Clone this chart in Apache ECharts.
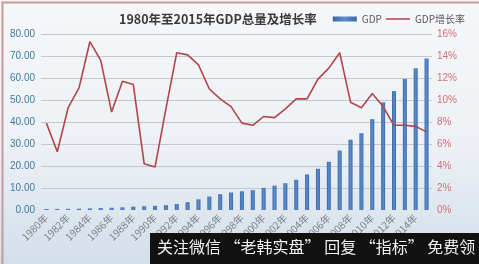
<!DOCTYPE html>
<html><head><meta charset="utf-8">
<script src="https://cdn.jsdelivr.net/npm/echarts@6/dist/echarts.min.js"></script>
<style>html,body{margin:0;padding:0;}#c{width:479px;height:264px;}</style>
</head><body><div id="c"></div>
<script>
const years = ['1980年','1981年','1982年','1983年','1984年','1985年','1986年','1987年','1988年','1989年','1990年','1991年','1992年','1993年','1994年','1995年','1996年','1997年','1998年','1999年','2000年','2001年','2002年','2003年','2004年','2005年','2006年','2007年','2008年','2009年','2010年','2011年','2012年','2013年','2014年','2015年'];
const gdp = [0.46,0.49,0.54,0.60,0.73,0.91,1.04,1.22,1.52,1.72,1.89,2.20,2.72,3.57,4.86,6.13,7.18,7.97,8.52,9.06,10.03,11.09,12.17,13.74,16.18,18.73,21.94,27.02,31.95,34.91,41.30,48.93,54.04,59.52,64.40,68.91];
const growth = [7.9,5.3,9.3,11.1,15.3,13.6,8.9,11.7,11.4,4.2,3.9,9.2,14.3,14.1,13.2,11.0,10.1,9.4,7.9,7.7,8.5,8.4,9.2,10.1,10.1,11.9,12.9,14.3,9.8,9.3,10.6,9.4,7.7,7.7,7.6,7.1];
const seriesNames = ['GDP','GDP增长率'];
const chart = echarts.init(document.getElementById('c'));
const gridColors = ['rgba(0,0,0,0)','#c4c8cc','#c4c8cc','#c4c8cc','#c4c8cc','#c4c8cc','#c4c8cc','#c4c8cc','#c4c8cc'];
chart.setOption({
  animation:false,
  backgroundColor:new echarts.graphic.LinearGradient(0,0,0,1,[{offset:0,color:'#f6f7f9'},{offset:0.55,color:'#edf1f5'},{offset:1,color:'#d2deea'}]),
  title:{text:'1980年至2015年GDP总量及增长率',left:114,top:8,textStyle:{fontFamily:'Noto Sans CJK SC',fontSize:12.5,fontWeight:'bold',color:'#3a3a3a'}},
  legend:{right:9,top:9,itemGap:4,itemWidth:24,itemHeight:5,textStyle:{fontFamily:'Noto Sans CJK SC',fontSize:10,color:'#595959'},
    data:[{name:seriesNames[0],icon:'rect'},{name:seriesNames[1],icon:'path://M0,0L24,0L24,1.5L0,1.5Z'}]},
  grid:{left:41,right:47,top:34,bottom:54},
  xAxis:{type:'category',data:years,axisLine:{show:false},axisTick:{show:false},
    axisLabel:{interval:1,rotate:45,fontSize:10,color:'#7a7f86',margin:6,fontFamily:'Noto Sans CJK SC'}},
  yAxis:[
    {type:'value',min:0,max:80,interval:10,axisLine:{show:false},axisTick:{show:false},
      axisLabel:{formatter:v=>v.toFixed(2),fontSize:10,color:'#3c7aa8',margin:6,fontFamily:'Liberation Sans'},
      splitLine:{lineStyle:{color:gridColors,width:1}}},
    {type:'value',min:0,max:16,interval:2,axisLine:{show:false},axisTick:{show:false},
      axisLabel:{formatter:v=>v+'%',fontSize:10,color:'#d0707a',margin:5,fontFamily:'Liberation Sans'},
      splitLine:{show:false}}
  ],
  series:[
    {name:seriesNames[0],type:'bar',data:gdp,barWidth:4,yAxisIndex:0,
      itemStyle:{color:new echarts.graphic.LinearGradient(0,0,1,0,[{offset:0,color:'#3a66a6'},{offset:0.5,color:'#5a8fd0'},{offset:1,color:'#3a66a6'}])}},
    {name:seriesNames[1],type:'line',data:growth,yAxisIndex:1,symbol:'none',
      lineStyle:{color:'#b0464b',width:1.6},itemStyle:{color:'#b0464b'}}
  ],
  graphic:[
    {type:'rect',left:0,top:0,shape:{width:478,height:263},style:{fill:'none',stroke:'#c99a98',lineWidth:2},z:100},
    {type:'rect',left:150,top:233,shape:{width:329,height:31},style:{fill:'#111'},z:101},
    {type:'text',left:157,top:239,style:{text:'关注微信 “老韩实盘” 回复 “指标” 免费领',fill:'#f2f2f2',font:'16px "Noto Sans CJK SC"'},z:102}
  ]
});
</script></body></html>
